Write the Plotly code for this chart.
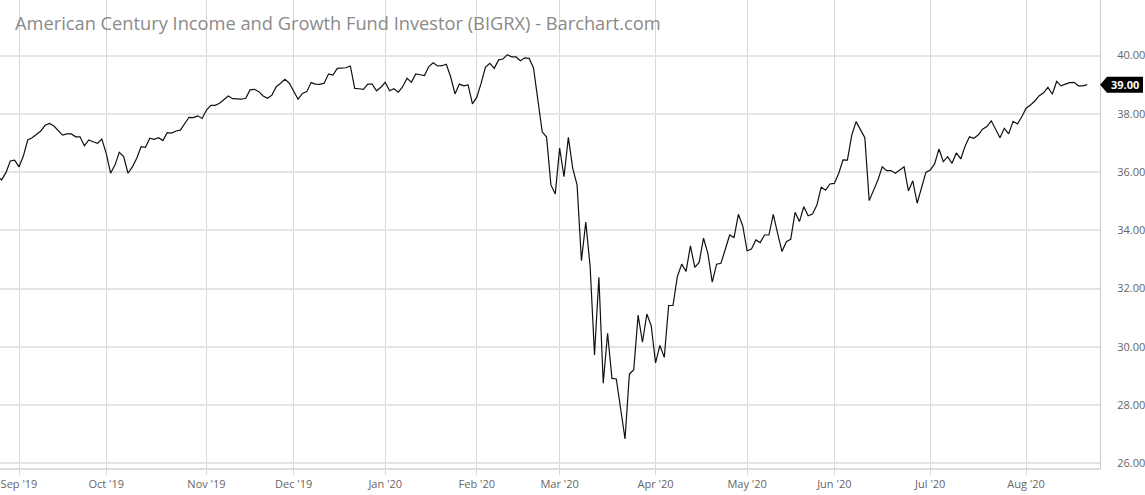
import pandas as pd
import plotly.graph_objects as go

# ---- data -------------------------------------------------------------
market_holidays = ["2019-09-02", "2019-11-28", "2019-12-25", "2020-01-01", "2020-01-20",
                   "2020-02-17", "2020-04-10", "2020-05-25", "2020-07-03"]
start_date = "2019-08-26"
end_date = "2020-08-21"

close_prices = [
    35.87, 35.73, 35.98, 36.38, 36.41,
    36.18, 36.55, 37.10, 37.18, 37.30, 37.41, 37.61, 37.67, 37.58, 37.42,
    37.27, 37.31, 37.31, 37.21, 37.21, 36.90, 37.10, 37.04, 36.99, 37.13,
    36.64, 35.96, 36.24, 36.68, 36.53, 35.96, 36.18, 36.47, 36.87, 36.85,
    37.16, 37.12, 37.18, 37.08, 37.35, 37.34, 37.41, 37.44, 37.64, 37.88,
    37.87, 37.93, 37.84, 38.13, 38.29, 38.29, 38.36, 38.47, 38.61, 38.52,
    38.52, 38.50, 38.53, 38.82, 38.84, 38.76, 38.61, 38.53, 38.64, 38.93,
    39.05, 39.18, 39.05, 38.78, 38.50, 38.70, 38.76, 39.07, 39.02, 39.01,
    39.05, 39.37, 39.33, 39.56, 39.58, 39.58, 39.64, 38.87, 38.86, 38.84,
    39.02, 39.02, 38.79, 38.91, 39.08, 38.79, 38.86, 38.74, 38.93, 39.22,
    39.08, 39.37, 39.34, 39.31, 39.62, 39.75, 39.64, 39.65, 39.70, 39.27,
    38.68, 39.02, 38.96, 38.99, 38.34, 38.57, 39.05, 39.60, 39.73, 39.56,
    39.85, 39.88, 40.03, 39.95, 39.95, 39.82, 39.92, 39.90, 39.58, 38.47,
    37.38, 37.20, 35.56, 35.25, 36.82, 35.84, 37.19, 36.13, 35.56, 32.96,
    34.28, 32.75, 29.72, 32.39, 28.75, 30.47, 28.92, 28.90, 27.95, 26.84,
    29.07, 29.22, 31.09, 30.16, 31.13, 30.73, 29.45, 30.05, 29.64, 31.42,
    31.42, 32.41, 32.84, 32.59, 33.47, 32.73, 32.90, 33.73, 33.21, 32.22,
    32.84, 32.87, 33.35, 33.84, 33.75, 34.55, 34.15, 33.30, 33.36, 33.67,
    33.58, 33.84, 33.84, 34.55, 33.90, 33.27, 33.61, 33.69, 34.62, 34.30,
    34.81, 34.50, 34.56, 34.87, 35.48, 35.38, 35.59, 35.61, 35.95, 36.42,
    36.41, 37.27, 37.73, 37.47, 37.18, 35.02, 35.38, 35.73, 36.18, 36.05,
    36.05, 35.96, 36.07, 36.18, 35.35, 35.70, 34.93, 35.50, 35.99, 36.07,
    36.28, 36.79, 36.36, 36.53, 36.30, 36.66, 36.45, 36.89, 37.21, 37.16,
    37.27, 37.47, 37.56, 37.76, 37.47, 37.18, 37.50, 37.31, 37.74, 37.65,
    37.90, 38.19, 38.30, 38.44, 38.62, 38.72, 38.91, 38.67, 39.11, 38.96,
    39.02, 39.07, 39.08, 38.96, 38.96, 39.00,
]

tick_months = ["2019-09", "2019-10", "2019-11", "2019-12", "2020-01", "2020-02",
               "2020-03", "2020-04", "2020-05", "2020-06", "2020-07", "2020-08"]
tick_labels = ["Sep '19", "Oct '19", "Nov '19", "Dec '19", "Jan '20", "Feb '20",
               "Mar '20", "Apr '20", "May '20", "Jun '20", "Jul '20", "Aug '20"]
y_ticks = [26, 28, 30, 32, 34, 36, 38, 40]
last_price = 39.00
title_text = "American Century Income and Growth Fund Investor (BIGRX) - Barchart.com"

# ---- build -------------------------------------------------------------
trading_days = pd.bdate_range(start_date, end_date, freq="C", holidays=market_holidays)
dates = [d.strftime("%Y-%m-%d") for d in trading_days]
n = min(len(dates), len(close_prices))
dates = dates[:n]
prices = close_prices[:n]

tickvals = []
for m in tick_months:
    first = next(d for d in dates if d.startswith(m))
    tickvals.append(first)

W, H = 1145, 495
plot_right = 1100
plot_bottom = 468

fig = go.Figure()
fig.add_trace(go.Scatter(
    x=dates, y=prices, mode="lines",
    line=dict(color="#111111", width=1.2),
    hoverinfo="x+y", showlegend=False,
))

grid_h = "#e5e5e5"
grid_v = "#d9d9d9"
font_fam = "Open Sans, Noto Sans, sans-serif"

fig.update_layout(
    width=W, height=H,
    margin=dict(l=0, r=W - plot_right, t=0, b=H - plot_bottom, pad=0),
    paper_bgcolor="white", plot_bgcolor="white",
    font=dict(family=font_fam, color="#666666", size=11),
    xaxis=dict(
        type="category",
        range=[0.64, 252.94],
        tickmode="array", tickvals=tickvals, ticktext=tick_labels,
        showgrid=True, gridcolor=grid_v, gridwidth=1,
        ticks="outside", ticklen=5, tickcolor=grid_v, tickwidth=1,
        showline=True, linecolor="#dddddd", linewidth=2,
        tickfont=dict(size=11, color="#666666"),
        zeroline=False, fixedrange=True,
    ),
    yaxis=dict(
        side="right",
        range=[25.844, 41.905],
        tickmode="array", tickvals=y_ticks,
        ticktext=[f"{v:.2f}" for v in y_ticks],
        showgrid=True, gridcolor=grid_h, gridwidth=2,
        ticks="outside", ticklen=14, tickcolor="rgba(0,0,0,0)",
        showline=True, linecolor="#cccccc", linewidth=1,
        tickfont=dict(size=11, color="#666666"),
        zeroline=False, fixedrange=True,
    ),
)

# title
fig.add_annotation(
    xref="paper", yref="paper", x=13 / plot_right, y=1 - 22 / plot_bottom,
    xanchor="left", yanchor="middle", showarrow=False,
    text=title_text, font=dict(family=font_fam, size=18.25, color="#8a8a8a"),
)

# last price flag
fig.add_shape(
    type="path", xref="paper", yref="y",
    xsizemode="pixel", ysizemode="pixel", xanchor=1, yanchor=last_price,
    path="M 0 0 L 7 8 L 43 8 L 43 -8 L 7 -8 Z",
    fillcolor="#000000", line=dict(width=0), layer="above",
)
fig.add_annotation(
    xref="paper", yref="y", x=1, y=last_price, xshift=25,
    xanchor="center", yanchor="middle", showarrow=False,
    text=f"<b>{last_price:.2f}</b>",
    font=dict(family=font_fam, size=11, color="white"),
)

fig.write_html("out.html")
